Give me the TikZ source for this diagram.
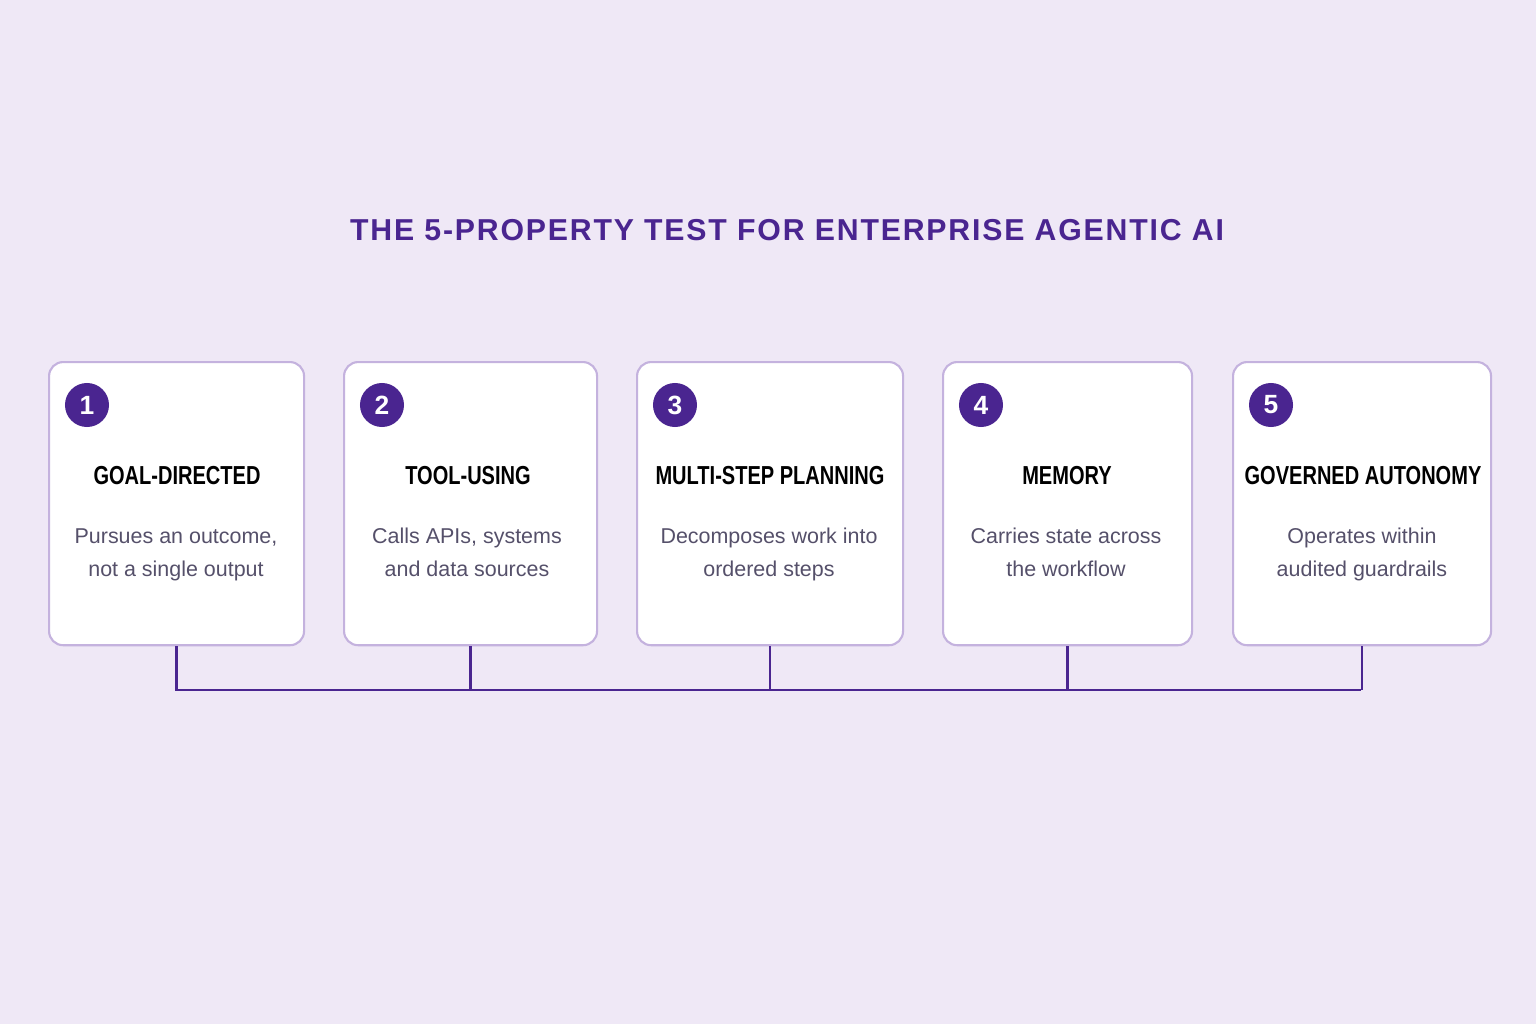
\documentclass[tikz,border=0pt]{standalone}
\usepackage{fontspec}
\setmainfont{Liberation Sans}
\usetikzlibrary{positioning}
\definecolor{bgpurple}{HTML}{EFE8F6}
\definecolor{deeppurple}{HTML}{4A2590}
\definecolor{edgepurple}{HTML}{C4B2DE}
\definecolor{descgray}{HTML}{55506A}
\tikzset{
  card/.style={draw=edgepurple, line width=0.6pt, fill=white, rounded corners=4pt, anchor=north west, inner sep=0pt},
  badge/.style={circle, fill=deeppurple, text=white, minimum size=0.44cm, inner sep=0pt, font=\bfseries\fontsize{7.5}{8}\selectfont},
  head/.style={font=\bfseries\fontsize{7.4}{8}\selectfont, text=black, xscale=0.77},
  desc/.style={font=\fontsize{6.1}{9.4}\selectfont, text=descgray, align=center, anchor=north, inner sep=0pt},
  link/.style={draw=deeppurple, line width=0.7pt}
}
\begin{document}
\begin{tikzpicture}[x=0.01cm,y=-0.01cm]

% background
\fill[bgpurple] (0,0) rectangle (1536,1024);
\useasboundingbox (0,0) rectangle (1536,1024);

% title
\node (title) [font=\bfseries\fontsize{8.6}{10}\selectfont, text=deeppurple] at (787,230)
  {\addfontfeature{LetterSpace=6}THE 5-PROPERTY TEST FOR ENTERPRISE AGENTIC AI};

% hub line
\coordinate (hubL) at (175,690);
\coordinate (hubR) at (1361,690);
\draw[link] (hubL) -- (hubR);

% cards: number/left/right/text centre/heading/description
\foreach \i/\xl/\xr/\xc/\hd/\ds in {
  1/48/303/177/GOAL-DIRECTED/{\strut Pursues an outcome,\\\strut not a single output},
  2/343/596/468/TOOL-USING/{\strut Calls APIs, systems\\\strut and data sources},
  3/636/902/770/MULTI-STEP PLANNING/{\strut Decomposes work into\\\strut ordered steps},
  4/942/1191/1067/MEMORY/{\strut Carries state across\\\strut the workflow},
  5/1232/1490/1363/GOVERNED AUTONOMY/{\strut Operates within\\\strut audited guardrails}}
{
  \node (card\i) [card, minimum width={(\xr-\xl)*0.01cm}, minimum height=2.83cm] at (\xl,361) {};
  \node (num\i) [badge] at (\xl+39,405) {\i};
  \node (head\i) [head] at (\xc,476) {\hd};
  \node (desc\i) [desc] at (\xc-1,520) {\ds};
  \coordinate (drop\i) at (card\i.south |- hubL);
  \draw[link] (card\i.south) -- (drop\i);
}

\end{tikzpicture}
\end{document}
